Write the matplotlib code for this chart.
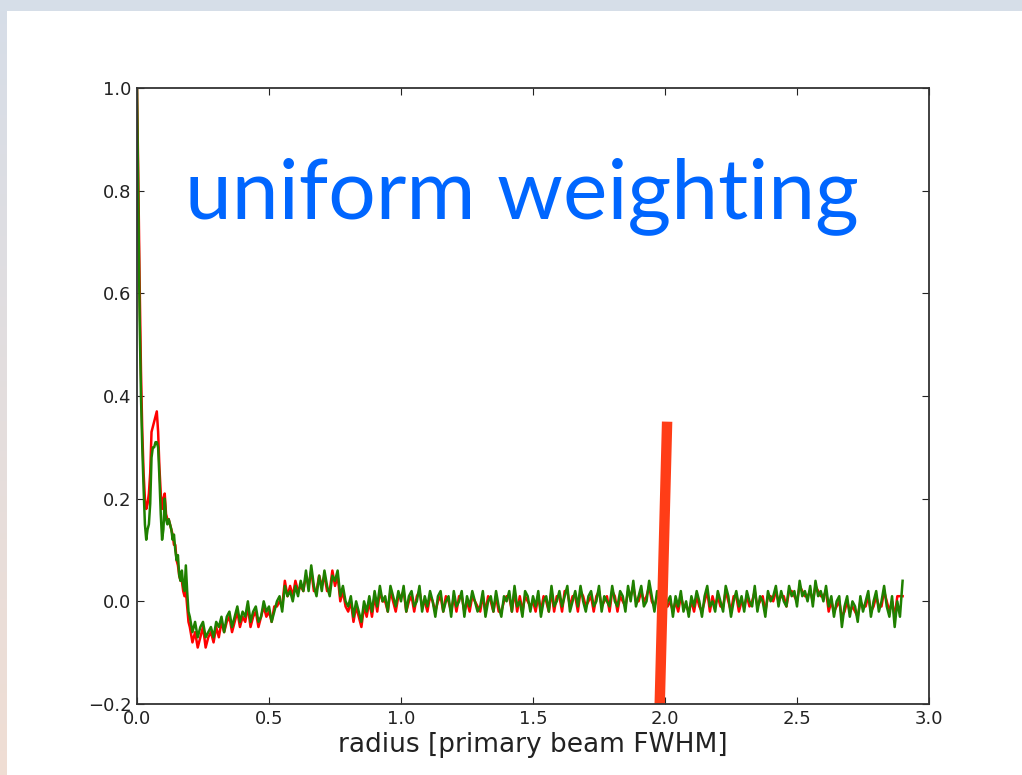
import numpy as np
import matplotlib.pyplot as plt
from matplotlib.patches import Rectangle

# radius grid: fine near the centre, coarser further out
x_early = np.arange(0, 40) * 0.005
x_late = 0.20 + np.arange(0, 271) * 0.01
radius = np.concatenate([x_early, x_late])

green_early = [1.00, 0.78, 0.55, 0.40, 0.30, 0.22, 0.15, 0.12, 0.14, 0.15,
               0.19, 0.28, 0.30, 0.30, 0.31, 0.31, 0.30, 0.24, 0.17, 0.12,
               0.14, 0.20, 0.16, 0.15, 0.16, 0.15, 0.14, 0.12, 0.13, 0.10,
               0.08, 0.09, 0.05, 0.04, 0.06, 0.03, 0.02, 0.07, 0.02, -0.02]
red_early = [1.00, 0.82, 0.62, 0.45, 0.33, 0.25, 0.20, 0.18, 0.19, 0.21,
             0.25, 0.33, 0.34, 0.35, 0.36, 0.37, 0.33, 0.26, 0.21, 0.18,
             0.20, 0.21, 0.17, 0.16, 0.16, 0.15, 0.14, 0.13, 0.11, 0.11,
             0.08, 0.07, 0.05, 0.04, 0.04, 0.02, 0.01, 0.02, -0.01, -0.04]

green_late = [
    -0.03, -0.06, -0.04, -0.07, -0.05, -0.04, -0.07, -0.06, -0.05, -0.07,
    -0.04, -0.05, -0.03, -0.06, -0.03, -0.02, -0.05, -0.03, -0.01, -0.04,
    -0.02, -0.03, 0.00, -0.04, -0.02, -0.01, -0.04, -0.03, 0.00, -0.02,
    -0.01, -0.04, -0.02, 0.00, 0.01, -0.02, 0.03, 0.01, 0.02, 0.00,
    0.03, 0.01, 0.04, 0.02, 0.06, 0.02, 0.07, 0.03, 0.01, 0.05,
    0.02, 0.06, 0.03, 0.01, 0.05, 0.04, 0.06, 0.01, 0.03, 0.00,
    -0.01, 0.01, -0.03, 0.00, -0.02, -0.04, 0.00, -0.02, 0.01, -0.02,
    0.02, -0.01, 0.03, 0.00, 0.01, -0.02, 0.03, 0.01, -0.01, 0.02,
    0.00, 0.03, -0.02, 0.01, 0.02, -0.01, 0.00, 0.03, -0.02, 0.01,
    -0.01, 0.02, 0.00, -0.03, 0.01, 0.02, -0.02, 0.00, 0.01, -0.03,
    0.02, -0.01, 0.00, 0.02, -0.03, 0.01, -0.01, 0.02, 0.00, -0.02,
    -0.01, 0.02, -0.03, 0.00, 0.01, -0.02, 0.02, -0.01, -0.03, 0.01,
    0.00, 0.02, -0.02, 0.03, -0.01, 0.00, -0.03, 0.02, 0.01, -0.02,
    0.01, -0.01, 0.02, -0.03, 0.00, 0.01, -0.02, 0.03, -0.01, 0.00,
    0.02, -0.01, 0.01, 0.03, -0.02, 0.00, 0.02, -0.01, 0.03, 0.00,
    -0.02, 0.01, 0.02, -0.01, 0.00, 0.03, -0.02, 0.01, 0.00, -0.01,
    0.03, 0.00, -0.01, 0.02, 0.01, -0.02, 0.03, 0.00, 0.04, -0.01,
    0.01, 0.03, -0.01, 0.00, 0.04, 0.01, -0.02, 0.02, 0.00, 0.03,
    -0.02, 0.00, 0.01, -0.03, 0.01, -0.01, 0.02, -0.02, 0.00, -0.03,
    0.01, -0.01, 0.02, 0.00, -0.03, 0.01, 0.03, -0.01, 0.00, -0.02,
    0.02, 0.00, -0.02, 0.03, 0.01, -0.03, 0.00, 0.02, -0.01, 0.01,
    -0.02, 0.02, 0.00, -0.01, 0.03, -0.02, 0.01, 0.00, -0.03, 0.02,
    0.00, 0.01, 0.03, -0.01, 0.02, 0.00, -0.01, 0.03, 0.01, 0.02,
    -0.01, 0.04, 0.01, 0.02, 0.00, 0.03, -0.01, 0.04, 0.01, 0.02,
    0.00, 0.03, -0.01, 0.01, -0.03, 0.00, 0.01, -0.05, -0.01, 0.01,
    -0.03, 0.00, -0.01, -0.04, 0.01, -0.02, 0.00, 0.02, -0.03, 0.00,
    0.02, -0.02, 0.00, 0.03, -0.01, -0.03, 0.01, -0.05, 0.00, -0.03,
    0.04]
red_late = [
    -0.05, -0.08, -0.06, -0.09, -0.07, -0.05, -0.09, -0.07, -0.06, -0.08,
    -0.05, -0.07, -0.04, -0.06, -0.04, -0.03, -0.06, -0.04, -0.02, -0.05,
    -0.03, -0.04, -0.01, -0.05, -0.03, -0.02, -0.05, -0.03, -0.01, -0.03,
    -0.02, -0.04, -0.01, -0.01, 0.00, -0.01, 0.04, 0.01, 0.03, 0.01,
    0.04, 0.02, 0.03, 0.02, 0.05, 0.03, 0.06, 0.02, 0.02, 0.05,
    0.03, 0.05, 0.02, 0.02, 0.06, 0.03, 0.05, 0.00, 0.02, -0.01,
    -0.02, 0.00, -0.04, -0.01, -0.03, -0.05, -0.01, -0.03, 0.00, -0.03,
    0.01, -0.02, 0.02, 0.00, 0.00, -0.02, 0.02, 0.00, -0.02, 0.01,
    0.01, 0.02, -0.02, 0.00, 0.01, -0.02, 0.01, 0.02, -0.01, 0.00,
    -0.02, 0.01, 0.00, -0.02, 0.00, 0.01, -0.02, 0.01, 0.00, -0.02,
    0.01, -0.02, 0.01, 0.01, -0.02, 0.00, -0.02, 0.01, 0.00, -0.01,
    -0.02, 0.01, -0.02, 0.01, 0.00, -0.02, 0.01, -0.02, -0.02, 0.00,
    0.01, 0.01, -0.02, 0.02, -0.02, 0.01, -0.02, 0.01, 0.00, -0.01,
    0.00, -0.02, 0.01, -0.02, 0.01, 0.00, -0.02, 0.02, -0.02, 0.01,
    0.01, -0.02, 0.02, 0.02, -0.01, 0.01, 0.01, -0.02, 0.02, 0.01,
    -0.01, 0.00, 0.01, -0.02, 0.01, 0.02, -0.01, 0.00, 0.01, -0.02,
    0.02, 0.01, -0.02, 0.01, 0.00, -0.01, 0.02, 0.01, 0.03, 0.00,
    0.00, 0.02, 0.00, 0.01, 0.03, 0.00, -0.01, 0.01, 0.01, 0.02,
    -0.01, -0.01, 0.00, -0.02, 0.00, -0.02, 0.01, -0.01, -0.01, -0.02,
    0.00, -0.02, 0.01, -0.01, -0.02, 0.00, 0.02, -0.02, 0.01, -0.01,
    0.01, -0.01, -0.01, 0.02, 0.00, -0.02, 0.01, 0.01, -0.02, 0.00,
    -0.01, 0.01, -0.01, 0.00, 0.02, -0.01, 0.00, 0.01, -0.02, 0.01,
    0.01, 0.00, 0.02, 0.00, 0.01, 0.01, -0.01, 0.02, 0.02, 0.01,
    0.00, 0.03, 0.02, 0.01, 0.01, 0.02, 0.00, 0.03, 0.02, 0.01,
    0.01, 0.02, -0.02, 0.00, -0.02, -0.01, 0.00, -0.03, -0.02, 0.00,
    -0.02, -0.01, -0.02, -0.03, 0.00, -0.01, -0.01, 0.01, -0.02, -0.01,
    0.01, -0.01, -0.01, 0.02, 0.00, -0.02, 0.00, -0.03, 0.01, 0.01,
    0.01]

green = np.array(green_early + green_late)
red = np.array(red_early + red_late)

# marker bar drawn on the slide (x, y of its two ends)
bar_x = [1.98, 2.008]
bar_y = [-0.2, 0.35]

xticks = [0.0, 0.5, 1.0, 1.5, 2.0, 2.5, 3.0]
yticks = [-0.2, 0.0, 0.2, 0.4, 0.6, 0.8, 1.0]

W, H = 1022, 775
fig = plt.figure(figsize=(W / 100, H / 100), dpi=100)

# slide background: grey-blue top, bluish-to-peach strip on the left
bg = fig.add_axes([0, 0, 1, 1])
grad = np.linspace(0, 1, 256)[:, None]
top_c = np.array([0.84, 0.87, 0.91])
bot_c = np.array([0.94, 0.87, 0.83])
img = top_c[None, None, :] * (1 - grad[:, :, None]) + bot_c[None, None, :] * grad[:, :, None]
bg.imshow(img, aspect='auto', extent=[0, 1, 0, 1])
bg.add_patch(Rectangle((0, 1 - 11 / H), 1, 11 / H, color=top_c, lw=0))
bg.add_patch(Rectangle((7 / W, 0), 1, 1 - 11 / H, color='white', lw=0))
bg.set_xlim(0, 1)
bg.set_ylim(0, 1)
bg.axis('off')

ax = fig.add_axes([137 / W, 71 / H, 792 / W, 616 / H])
ax.plot(radius, red, color='#ff0000', linewidth=1.8)
ax.plot(radius, green, color='#1f8000', linewidth=1.8)
ax.plot(bar_x, bar_y, color='#ff3d17', linewidth=7.5, solid_capstyle='butt')

ax.set_xlim(0, 3.0)
ax.set_ylim(-0.2, 1.0)
ax.set_xticks(xticks)
ax.set_yticks(yticks)
ax.set_xticklabels(['%.1f' % v for v in xticks])
ax.set_yticklabels(['\u22120.2' if v < 0 else '%.1f' % v for v in yticks])
ax.tick_params(direction='in', length=5, width=0.8, top=True, right=True,
               labelsize=13, colors='#222222', pad=4)
for sp in ax.spines.values():
    sp.set_linewidth(1.3)
    sp.set_color('#333333')
ax.set_xlabel('radius [primary beam FWHM]', fontsize=19, color='#222222', labelpad=3)

title = fig.text(185 / W, 1 - 218 / H, 'uniform weighting', color='#0066ff',
                 fontsize=60, family='Lato', ha='left', va='baseline')
fig.canvas.draw()
bb = title.get_window_extent()
title.set_fontsize(60 * 675 / bb.width)

fig.savefig('out.png', dpi=100)
